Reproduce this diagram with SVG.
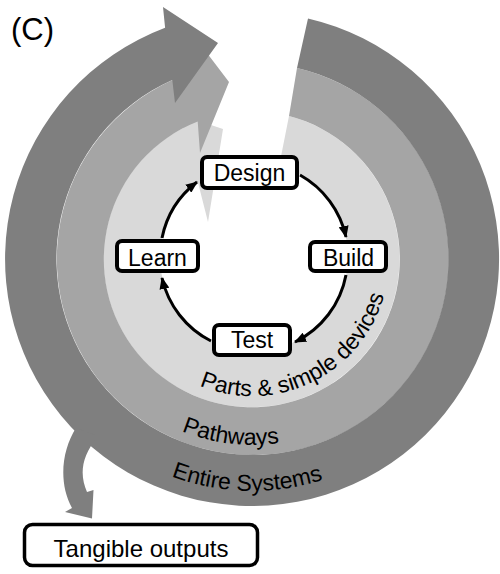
<svg xmlns="http://www.w3.org/2000/svg" width="500" height="574" viewBox="0 0 500 574">
<defs>
<style>
.dark{fill:#7f7f7f}
.mid{fill:#a5a5a5}
.light{fill:#d9d9d9}
.box{fill:#fff;stroke:#000;stroke-width:4}
.lbl{font-family:"Liberation Sans",Arial,sans-serif;font-size:23px;fill:#000;text-anchor:middle}
.ring{font-family:"Liberation Sans",Arial,sans-serif;font-size:23px;fill:#000;text-anchor:middle}
.cyc{fill:none;stroke:#000;stroke-width:3;marker-end:url(#ah)}
</style>
<marker id="ah" markerUnits="userSpaceOnUse" viewBox="0 0 12 10" markerWidth="12" markerHeight="10" refX="11" refY="5" orient="auto"><path d="M0,0 L12,5 L0,10 z" fill="#000"/></marker>
<path id="pParts" d="M117.1,235.2 A137,137 0 1 0 386.9,235.2"/>
<path id="pPath" d="M68.8,226.7 A186,186 0 1 0 435.2,226.7"/>
<path id="pSys" d="M23.5,218.7 A232,232 0 1 0 480.5,218.7"/>
</defs>
<rect width="500" height="574" fill="#fff"/>
<text x="11" y="40" font-family="Liberation Sans, Arial, sans-serif" font-size="31" fill="#000">(C)</text>
<g id="ring-parts">
<path class="light" d="M289,116 A148,148 0 1 1 184.1,127.4 L181,115 L223,129 L208,222 L197.8,181.7 A94,94 0 1 0 279,166.4 Z"/>
<text class="ring"><textPath href="#pParts" startOffset="301.3">Parts &amp; simple devices</textPath></text>
</g>
<g id="ring-pathways">
<path class="mid" d="M297,68 A196,196 0 1 1 194,72 L191,32 L229,82 L200,153 L197.7,121.5 A148,148 0 1 0 289,116 Z"/>
<text class="ring"><textPath href="#pPath" startOffset="301.9">Pathways</textPath></text>
</g>
<g id="ring-systems">
<path class="dark" d="M308,18.4 A247,247 0 1 1 165.1,27.8 L163,7 L218,43 L175,103 L172.3,80 A196,196 0 1 0 297,68 Z"/>
<text class="ring"><textPath href="#pSys" startOffset="399.6">Entire Systems</textPath></text>
</g>
<g id="connectors">
<path class="dark" d="M76,428 C62,450 58,482 72,508 L65,512 L92,518.5 L93.5,490 L87,492 C80,476 80,458 98,436 Z"/>
<path class="cyc" d="M162,238 A94,94 0 0 1 197,182"/>
<path class="cyc" d="M300,175 A94,94 0 0 1 346,237"/>
<path class="cyc" d="M346,275 A94,94 0 0 1 295,342"/>
<path class="cyc" d="M211,341 A94,94 0 0 1 162,278"/>
</g>
<g id="design">
<rect class="box" x="202" y="157" width="95" height="31" rx="5"/>
<text class="lbl" x="249.5" y="181">Design</text>
</g>
<g id="build">
<rect class="box" x="310" y="242" width="76" height="29" rx="5"/>
<text class="lbl" x="348.5" y="265.5">Build</text>
</g>
<g id="test">
<rect class="box" x="214" y="325" width="76" height="30" rx="5"/>
<text class="lbl" x="252" y="348">Test</text>
</g>
<g id="learn">
<rect class="box" x="117" y="241" width="81" height="30" rx="5"/>
<text class="lbl" x="157.5" y="265.5">Learn</text>
</g>
<g id="tangible-outputs">
<rect x="24.5" y="524.5" width="233" height="41" rx="8" fill="#fff" stroke="#000" stroke-width="3.5"/>
<text class="lbl" x="141" y="556.5" style="font-size:24px">Tangible outputs</text>
</g>
</svg>
